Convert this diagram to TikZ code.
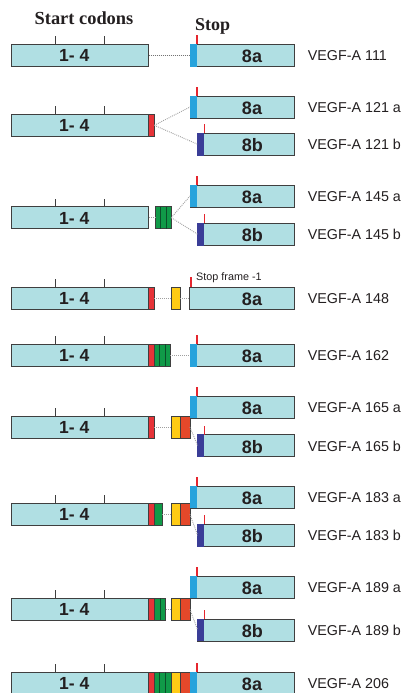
\documentclass[tikz,border=0pt]{standalone}
\usepackage{fontspec}
\setmainfont{Liberation Serif}
\newfontfamily\arialf{Liberation Sans}
\usetikzlibrary{calc}
\definecolor{cyanbox}{HTML}{B0DFE3}
\definecolor{boxgray}{HTML}{3F3F3F}
\definecolor{redband}{HTML}{E63338}
\definecolor{greenband}{HTML}{109A48}
\definecolor{greendiv}{HTML}{0B4F2A}
\definecolor{yellowband}{HTML}{FFCB15}
\definecolor{orangeband}{HTML}{E5482A}
\definecolor{blueband}{HTML}{27A3DC}
\definecolor{darkblueband}{HTML}{3A3D97}
\definecolor{tickred}{HTML}{E5262E}
\definecolor{txt}{HTML}{231F20}
\tikzset{
  seg/.style={draw=boxgray, line width=0.8pt, inner sep=0pt, outer sep=0pt, anchor=north west, minimum height=22pt},
  mainbox/.style={seg, fill=cyanbox, minimum width=137pt},
  exbox/.style={seg, fill=cyanbox},
  bandnode/.style={inner sep=0pt, outer sep=0pt, anchor=north west, minimum height=22.6pt},
  numtxt/.style={font=\arialf\bfseries\fontsize{17.5}{20}\selectfont, text=txt, inner sep=0pt},
  exontxt/.style={font=\arialf\bfseries\fontsize{18}{20}\selectfont, text=txt, inner sep=0pt},
  isolabel/.style={font=\arialf\fontsize{14.3}{16}\selectfont, text=txt, anchor=west, inner sep=0pt},
  codontick/.style={draw=boxgray, line width=0.9pt},
  stoptick/.style={draw=tickred, line width=1.1pt},
  dotline/.style={draw=gray!75, line width=0.9pt, dash pattern=on 0.9pt off 1.1pt},
  darkdotline/.style={draw=gray!90!black, line width=0.9pt, dash pattern=on 0.9pt off 1.1pt},
}
% main exon 1-4 with start codon ticks
\newcommand\MainRow[2]{%
  \node[mainbox] (#1) at (11.7,#2) {};
  \draw[codontick] (55,#2) -- ++(0,-8);
  \draw[codontick] (104.3,#2) -- ++(0,-8);
  \node[numtxt] (#1t) at (74.3,#2+11.5) {1- 4};
}
% exon 8a with blue band
\newcommand\ExonA[3]{%
  \node[exbox, minimum width=104.3pt] (#1) at (190,#2) {};
  \node[bandnode, fill=blueband, minimum width=7pt] (#1band) at (189.6,#2-0.3) {};
  \draw[stoptick] (197,#2) -- ++(0,-9);
  \node[exontxt] (#1t) at (252,#2+12) {8a};
  \node[isolabel] (#1l) at (307.7,#2+11.3) {#3};
}
% exon 8b with dark blue band
\newcommand\ExonB[3]{%
  \node[exbox, minimum width=96.6pt] (#1) at (197.7,#2) {};
  \node[bandnode, fill=darkblueband, minimum width=6.2pt] (#1band) at (197.4,#2-0.3) {};
  \draw[stoptick] (204.7,#2) -- ++(0,-9);
  \node[exontxt] (#1t) at (252.3,#2+12) {8b};
  \node[isolabel] (#1l) at (307.7,#2+11.3) {#3};
}
\newcommand\RedSeg[2]{\node[seg, fill=redband, minimum width=5.6pt] (#1) at (148.7,#2) {};}
\newcommand\YellowSeg[2]{\node[seg, fill=yellowband, minimum width=9.3pt] (#1) at (171,#2) {};}
\newcommand\OrangeSeg[2]{\node[seg, fill=orangeband, minimum width=9.6pt] (#1) at (180.3,#2) {};}
% green exon 6 stripes: name, x, top, n, stripe width
\newcommand\GreenSeg[5]{%
  \node[seg, fill=greenband, minimum width=#4*#5 pt] (#1) at (#2,#3) {};
  \foreach \k in {1,...,#4}{\ifnum\k<#4 \draw[greendiv, line width=0.9pt] (#2+\k*#5,#3) -- ++(0,22);\fi}
}
\begin{document}
\begin{tikzpicture}[x=1pt,y=-1pt]
\useasboundingbox[fill=white] (0,0) rectangle (406,693);
\begin{scope}
\clip (0,0) rectangle (406,693);
% headings
\node[font=\bfseries\fontsize{18.4}{20}\selectfont, text=txt, anchor=base, inner sep=0pt] (start) at (84,25) {Start codons};
\node[font=\bfseries\fontsize{18}{20}\selectfont, text=txt, anchor=base west, inner sep=0pt] (stop) at (195,31) {Stop};

% VEGF-A 111
\MainRow{m111}{44.3}
\ExonA{a111}{44.3}{VEGF-A 111}
\draw[darkdotline] (m111.east) -- (a111.west);

% VEGF-A 121
\MainRow{m121}{114.3}
\RedSeg{r121}{114.3}
\ExonA{a121}{96}{VEGF-A 121 a}
\ExonB{b121}{133.3}{VEGF-A 121 b}
\draw[dotline] (r121.east) -- (a121.west);
\draw[dotline] (r121.east) -- (b121.west);

% VEGF-A 145
\MainRow{m145}{206.7}
\GreenSeg{g145}{155.3}{206.7}{3}{5.33}
\ExonA{a145}{185}{VEGF-A 145 a}
\ExonB{b145}{223.3}{VEGF-A 145 b}
\draw[dotline] (m145.east) -- (g145.west);
\draw[dotline] (g145.east) -- (a145.west);
\draw[dotline] (g145.east) -- (b145.west);

% VEGF-A 148
\MainRow{m148}{287.3}
\RedSeg{r148}{287.3}
\YellowSeg{y148}{287.3}
\node[exbox, minimum width=104.6pt] (a148) at (189.7,287.3) {};
\draw[stoptick] (191,287.3) -- ++(0,-10);
\node[exontxt] (a148t) at (252,299.3) {8a};
\node[isolabel] (a148l) at (307.7,298.6) {VEGF-A 148};
\node[font=\arialf\fontsize{10.8}{12}\selectfont, text=txt, anchor=base west, inner sep=0pt] (frame) at (196,280) {Stop frame -1};
\draw[dotline] (r148.east) -- (y148.west);
\draw[dotline] (y148.east) -- (a148.west);

% VEGF-A 162
\MainRow{m162}{344.3}
\RedSeg{r162}{344.3}
\GreenSeg{g162}{154.3}{344.3}{3}{5.33}
\ExonA{a162}{344.3}{VEGF-A 162}
\draw[dotline] (g162.east) -- (a162.west);

% VEGF-A 165
\MainRow{m165}{416}
\RedSeg{r165}{416}
\YellowSeg{y165}{416}
\OrangeSeg{o165}{416}
\ExonA{a165}{396}{VEGF-A 165 a}
\ExonB{b165}{434.7}{VEGF-A 165 b}
\draw[dotline] (r165.east) -- (y165.west);
\draw[dotline] (o165.east) -- (b165.west);

% VEGF-A 183
\MainRow{m183}{503.3}
\RedSeg{r183}{503.3}
\GreenSeg{g183}{154.3}{503.3}{1}{7.7}
\YellowSeg{y183}{503.3}
\OrangeSeg{o183}{503.3}
\ExonA{a183}{486}{VEGF-A 183 a}
\ExonB{b183}{524.3}{VEGF-A 183 b}
\draw[dotline] (g183.east) -- (y183.west);
\draw[dotline] (o183.east) -- (b183.west);

% VEGF-A 189
\MainRow{m189}{598.3}
\RedSeg{r189}{598.3}
\GreenSeg{g189}{154.3}{598.3}{2}{5.7}
\YellowSeg{y189}{598.3}
\OrangeSeg{o189}{598.3}
\ExonA{a189}{576}{VEGF-A 189 a}
\ExonB{b189}{619}{VEGF-A 189 b}
\draw[dotline] (g189.east) -- (y189.west);
\draw[dotline] (o189.east) -- (b189.west);

% VEGF-A 206
\MainRow{m206}{672}
\RedSeg{r206}{672}
\GreenSeg{g206}{154.3}{672}{3}{5.56}
\YellowSeg{y206}{672}
\OrangeSeg{o206}{672}
\ExonA{a206}{672}{VEGF-A 206}
\end{scope}
\end{tikzpicture}
\end{document}
